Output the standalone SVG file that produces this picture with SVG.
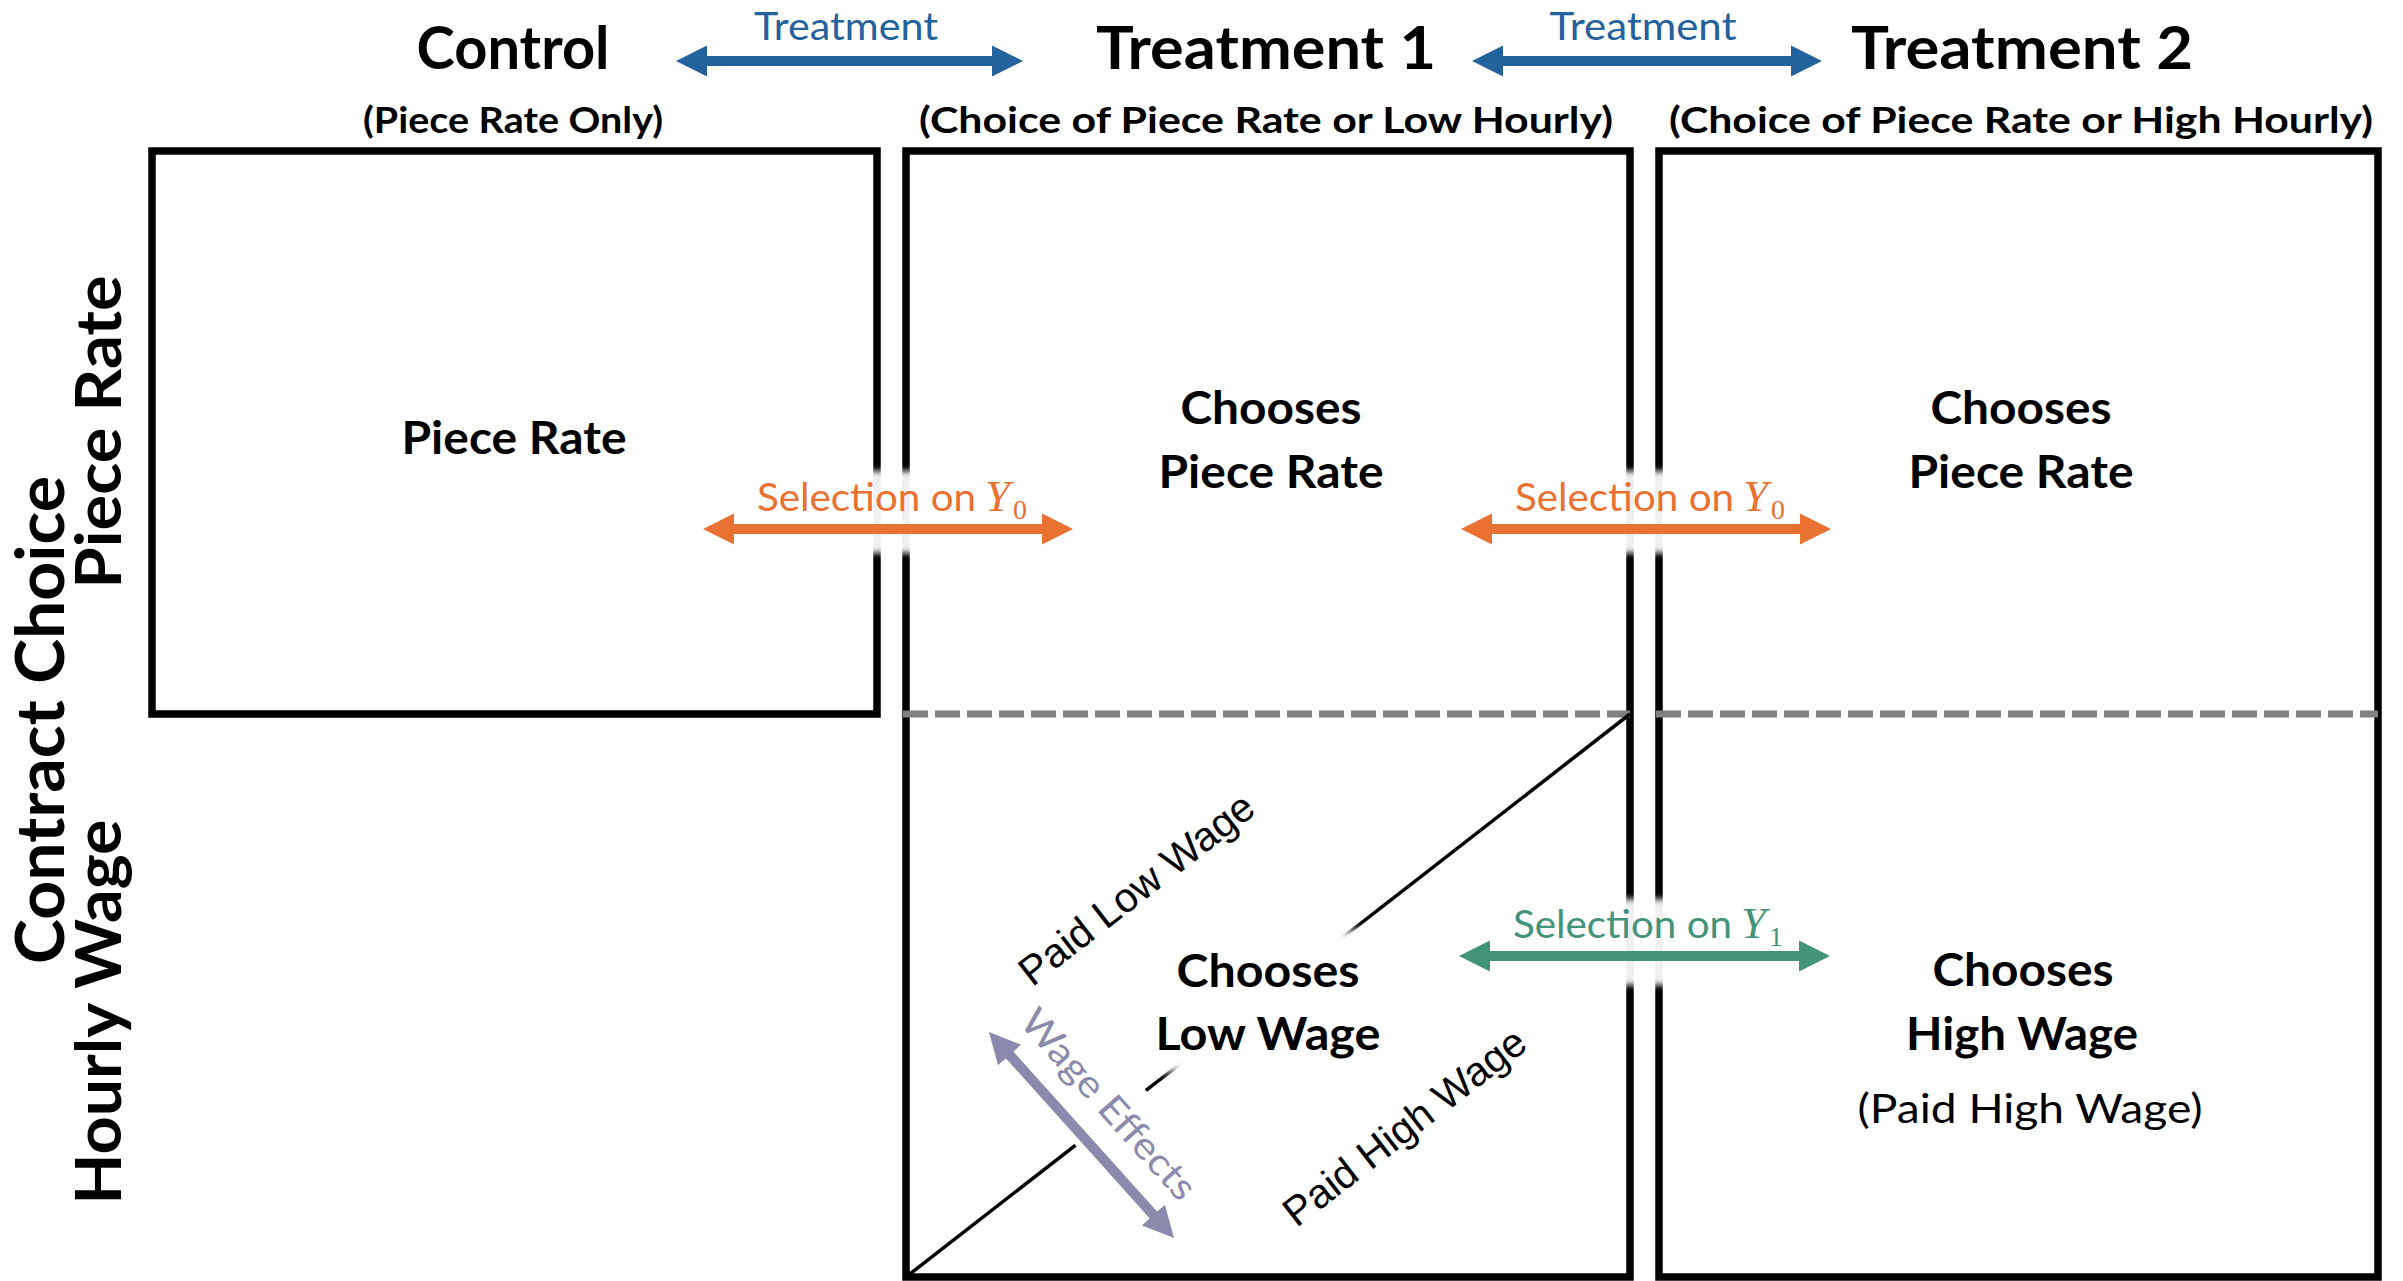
<svg xmlns="http://www.w3.org/2000/svg" width="2403" height="1281" viewBox="0 0 2403 1281">
  <defs>
    <style>
      .box{fill:none;stroke:#000;stroke-width:7.5}
      .split{fill:none;stroke:#808080;stroke-width:7;stroke-dasharray:25 7}
      .diag{fill:none;stroke:#000;stroke-width:3.5}
      .title{font-family:Lato,"Open Sans",sans-serif;font-weight:700;font-size:60px;text-anchor:middle;fill:#000}
      .sub{font-family:Lato,"Open Sans",sans-serif;font-weight:700;font-size:36px;text-anchor:middle;fill:#000}
      .cell{font-family:Lato,"Open Sans",sans-serif;font-weight:700;font-size:46px;text-anchor:middle;fill:#000}
      .note{font-family:Lato,"Open Sans",sans-serif;font-size:41px;text-anchor:middle;fill:#000}
      .axis{font-family:Lato,"Open Sans",sans-serif;font-weight:700;text-anchor:middle;fill:#000}
      .lbl{font-family:Lato,"Open Sans",sans-serif;font-size:38px}
      .math{font-family:"Liberation Serif",serif;font-style:italic;font-size:45px}
      .idx{font-family:"Liberation Serif",serif;font-size:28px}
      .paid{font-family:"Liberation Sans",Arial,sans-serif;font-size:41px;text-anchor:middle;fill:#000}
      .blue{fill:#24629E}
      .orange{fill:#E97132}
      .green{fill:#43937A}
      .violet{fill:#8C8AAC}
      .shaft{fill:none;stroke-width:10;stroke-linecap:butt}
      .halo{fill:#fff;opacity:0.94}
    </style>
    <marker id="headBlue" markerUnits="userSpaceOnUse" viewBox="0 -16 32 32" markerWidth="32" markerHeight="32" refX="1" refY="0" orient="auto-start-reverse">
      <path d="M0,-15.5L31,0L0,15.5z" fill="#24629E"/>
    </marker>
    <marker id="headOrange" markerUnits="userSpaceOnUse" viewBox="0 -16 32 32" markerWidth="32" markerHeight="32" refX="1" refY="0" orient="auto-start-reverse">
      <path d="M0,-15.5L31,0L0,15.5z" fill="#E97132"/>
    </marker>
    <marker id="headGreen" markerUnits="userSpaceOnUse" viewBox="0 -16 32 32" markerWidth="32" markerHeight="32" refX="1" refY="0" orient="auto-start-reverse">
      <path d="M0,-15.5L31,0L0,15.5z" fill="#43937A"/>
    </marker>
    <marker id="headViolet" markerUnits="userSpaceOnUse" viewBox="0 -16 32 32" markerWidth="32" markerHeight="32" refX="1" refY="0" orient="auto-start-reverse">
      <path d="M0,-15.5L31,0L0,15.5z" fill="#8C8AAC"/>
    </marker>
    <filter id="soft" x="-10%" y="-40%" width="120%" height="180%">
      <feGaussianBlur stdDeviation="3"/>
    </filter>
    <filter id="softer" x="-20%" y="-30%" width="140%" height="160%">
      <feGaussianBlur stdDeviation="5"/>
    </filter>
  </defs>

  <rect width="2403" height="1281" fill="#fff"/>

  <!-- column headings -->
  <g id="head-control">
    <text class="title" x="513" y="69" textLength="193" lengthAdjust="spacingAndGlyphs">Control</text>
    <text class="sub" x="513" y="133" textLength="300" lengthAdjust="spacingAndGlyphs">(Piece Rate Only)</text>
  </g>
  <g id="head-t1">
    <text class="title" x="1266" y="69" textLength="340" lengthAdjust="spacingAndGlyphs">Treatment 1</text>
    <text class="sub" x="1266" y="133" textLength="694" lengthAdjust="spacingAndGlyphs">(Choice of Piece Rate or Low Hourly)</text>
  </g>
  <g id="head-t2">
    <text class="title" x="2022" y="69" textLength="342" lengthAdjust="spacingAndGlyphs">Treatment 2</text>
    <text class="sub" x="2021" y="133" textLength="704" lengthAdjust="spacingAndGlyphs">(Choice of Piece Rate or High Hourly)</text>
  </g>

  <!-- row headings -->
  <g id="axis-rows">
    <text class="axis" font-size="67" transform="translate(64,720) rotate(-90)" textLength="488" lengthAdjust="spacingAndGlyphs">Contract Choice</text>
    <text class="axis" font-size="64" transform="translate(121,432) rotate(-90)" textLength="313" lengthAdjust="spacingAndGlyphs">Piece Rate</text>
    <text class="axis" font-size="64" transform="translate(121,1012) rotate(-90)" textLength="385" lengthAdjust="spacingAndGlyphs">Hourly Wage</text>
  </g>

  <!-- group frames -->
  <g id="box-control">
    <rect class="box" x="152" y="151" width="725" height="563"/>
  </g>
  <g id="box-t1">
    <rect class="box" x="906" y="151" width="724" height="1126"/>
    <line class="split" x1="903" y1="714" x2="1630" y2="714"/>
    <line class="diag" x1="906" y1="1277" x2="1630" y2="714"/>
  </g>
  <g id="box-t2">
    <rect class="box" x="1659" y="151" width="719" height="1126"/>
    <line class="split" x1="1656" y1="714" x2="2378" y2="714"/>
  </g>

  <!-- white backings that interrupt the frame lines under the arrows and labels -->
  <g id="backings">
    <rect class="halo" x="700" y="471" width="376" height="82" filter="url(#soft)"/>
    <rect class="halo" x="1458" y="471" width="376" height="82" filter="url(#soft)"/>
    <rect class="halo" x="1456" y="899" width="377" height="86" filter="url(#soft)"/>
    <rect x="1135" y="930" width="260" height="142" fill="#fff" filter="url(#softer)"/>
    <rect x="-150" y="-78" width="300" height="89" fill="#fff" transform="translate(1081,1135) rotate(48.1)"/>
  </g>

  <!-- connectors -->
  <g id="connectors">
    <line class="shaft" stroke="#24629E" x1="706" y1="61" x2="993" y2="61" marker-start="url(#headBlue)" marker-end="url(#headBlue)"/>
    <line class="shaft" stroke="#24629E" x1="1502" y1="61" x2="1792" y2="61" marker-start="url(#headBlue)" marker-end="url(#headBlue)"/>
    <line class="shaft" stroke="#E97132" x1="733" y1="529" x2="1043" y2="529" marker-start="url(#headOrange)" marker-end="url(#headOrange)"/>
    <line class="shaft" stroke="#E97132" x1="1491" y1="529" x2="1801" y2="529" marker-start="url(#headOrange)" marker-end="url(#headOrange)"/>
    <line class="shaft" stroke="#43937A" x1="1489" y1="956" x2="1800" y2="956" marker-start="url(#headGreen)" marker-end="url(#headGreen)"/>
    <line class="shaft" stroke="#8C8AAC" x1="1009" y1="1054.3" x2="1154" y2="1215.7" marker-start="url(#headViolet)" marker-end="url(#headViolet)"/>
  </g>

  <!-- connector labels -->
  <g id="connector-labels">
    <text class="lbl blue" x="846" y="40" text-anchor="middle" textLength="184" lengthAdjust="spacingAndGlyphs">Treatment</text>
    <text class="lbl blue" x="1643" y="40" text-anchor="middle" textLength="187" lengthAdjust="spacingAndGlyphs">Treatment</text>

    <text class="lbl orange" x="757" y="511" textLength="219" lengthAdjust="spacingAndGlyphs">Selection on</text>
    <text class="math orange" x="985" y="511">Y</text>
    <text class="idx orange" x="1013" y="519">0</text>

    <text class="lbl orange" x="1515" y="511" textLength="219" lengthAdjust="spacingAndGlyphs">Selection on</text>
    <text class="math orange" x="1743" y="511">Y</text>
    <text class="idx orange" x="1771" y="519">0</text>

    <text class="lbl green" x="1513" y="938" textLength="219" lengthAdjust="spacingAndGlyphs">Selection on</text>
    <text class="math green" x="1741" y="938">Y</text>
    <text class="idx green" x="1769" y="946">1</text>

    <text class="lbl violet" font-size="44" text-anchor="middle" transform="translate(1099,1113) rotate(48.1)" textLength="242" lengthAdjust="spacingAndGlyphs">Wage Effects</text>
    <text class="paid" transform="translate(1145,900) rotate(-37.8)">Paid Low Wage</text>
    <text class="paid" font-size="42" transform="translate(1413,1138) rotate(-37.8)">Paid High Wage</text>
  </g>

  <!-- cell contents -->
  <g id="cell-control-piece">
    <text class="cell" x="514" y="454" textLength="225" lengthAdjust="spacingAndGlyphs">Piece Rate</text>
  </g>
  <g id="cell-t1-piece">
    <text class="cell" x="1271" y="424" textLength="181" lengthAdjust="spacingAndGlyphs">Chooses</text>
    <text class="cell" x="1271" y="488" textLength="225" lengthAdjust="spacingAndGlyphs">Piece Rate</text>
  </g>
  <g id="cell-t2-piece">
    <text class="cell" x="2021" y="424" textLength="181" lengthAdjust="spacingAndGlyphs">Chooses</text>
    <text class="cell" x="2021" y="488" textLength="225" lengthAdjust="spacingAndGlyphs">Piece Rate</text>
  </g>
  <g id="cell-t1-hourly">
    <text class="cell" x="1268" y="987" textLength="183" lengthAdjust="spacingAndGlyphs">Chooses</text>
    <text class="cell" x="1268" y="1050" textLength="225" lengthAdjust="spacingAndGlyphs">Low Wage</text>
  </g>
  <g id="cell-t2-hourly">
    <text class="cell" x="2023" y="986" textLength="181" lengthAdjust="spacingAndGlyphs">Chooses</text>
    <text class="cell" x="2022" y="1050" textLength="232" lengthAdjust="spacingAndGlyphs">High Wage</text>
    <text class="note" x="2030" y="1123" textLength="345" lengthAdjust="spacingAndGlyphs">(Paid High Wage)</text>
  </g>
</svg>
